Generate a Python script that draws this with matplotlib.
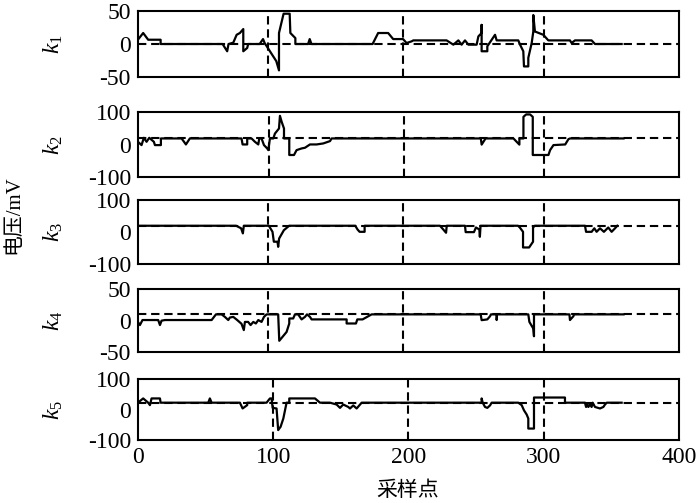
import matplotlib
matplotlib.use("Agg")
import matplotlib.pyplot as plt

plt.rcParams['font.family'] = ['Liberation Serif', 'Noto Sans CJK SC']
plt.rcParams['mathtext.fontset'] = 'custom'
plt.rcParams['mathtext.it'] = 'Liberation Serif:italic'
plt.rcParams['mathtext.rm'] = 'Liberation Serif'
plt.rcParams['axes.unicode_minus'] = False

k1_x = [0, 3.9, 7.6, 16.8, 16.8, 62.6, 66, 67, 70.5, 73, 75.4, 77.9, 77.9, 80.8, 81.5,
        90, 92.5, 93.7, 102.3, 104.3, 104.3, 107.7, 112.2, 112.7, 116.4, 116.4, 125.8,
        127, 128.3, 173.5, 177.6, 185, 188.7, 196, 198.6, 202.3, 203.6, 228.2, 233.2,
        236.9, 239.3, 241.8, 244.3, 250.4, 251.7, 254.1, 254.1, 254.1, 258.3, 258.3,
        264, 265.2, 281.2, 282.5, 284.9, 285.4, 288.6, 288.6, 291.1, 292.3, 292.3,
        293.5, 299.7, 303.4, 319.4, 320.6, 323.1, 335.4, 337.9, 357.6]
k1_y = [6.5, 16.7, 6.5, 6.5, 0, 0, -11, 0, 2, 14, 16.7, 22.7, -11, -6, 0,
        0, 7.5, 1.5, -26, -40, 16.7, 46, 46, 16.7, 9, 0, 0,
        7.5, 0, 0, 16.7, 16.7, 7.5, 7.5, 1.5, 4, 5.5, 5.5, -1,
        5.5, -1, 5.5, -1, -1, 11.6, 16.7, 29, -11, -11, -3.5,
        14, 5.5, 5.5, -1, -11, -34, -34, -21, 1.5, 19, 44,
        19, 14, 5.5, 5.5, 1.5, 5.5, 5.5, 0, 0]

k2_x = [0, 2.7, 4.4, 6.4, 8.4, 11.8, 12.6, 17, 17, 32.3, 35.5, 38.4, 76.6, 77.4, 80.8,
        80.8, 84, 86.5, 89, 89.7, 91.4, 93.2, 95.6, 96.4, 97.6, 100.1, 101.3, 104.3,
        105, 106.3, 108, 108, 111.9, 111.9, 115.4, 117.3, 121, 123.5, 127.2, 132.1,
        137, 142, 143.2, 253.5, 254.1, 257, 277.6, 282, 282, 285, 285, 287, 289.9,
        291.9, 291.9, 303.5, 304.7, 307.2, 315.9, 318.3, 319.5, 359]
k2_y = [8.7, -1.5, 21, 8.7, 21, 8.7, -1.5, -1.5, 19, 19, 0.5, 19, 19, 0.5, 0.5,
        19, 19, 8.7, 0.5, 19, 19, -1.5, -11.8, -17, 19, 19, 34, 49.7,
        88.7, 70, 49.7, 19, 19, -32, -32, -17, -11.8, -9.7, 0.5, 0.5,
        3.6, 10.8, 19, 19, 0, 19, 19, 0, 19, 19, 85.6, 93, 93,
        85.6, -32, -32, -17, -1.5, 0.5, 17, 19, 19]

k3_x = [0, 72.6, 76.3, 77.6, 78.3, 96.8, 99.5, 100.5, 103.2, 103.7, 104.4, 107.9, 111.8,
        160.7, 162.4, 163.9, 167.6, 167.6, 223.3, 225.8, 227.8, 228.3, 241.8, 242.3,
        248.4, 249.9, 252.4, 252.8, 253.3, 281, 282.3, 284.7, 284.7, 289.2, 292.1,
        292.1, 293.4, 330.5, 331.3, 335.4, 337.4, 339.1, 341.6, 344.5, 347.7, 350.2,
        352.7, 354.4]
k3_y = [20, 20, 12, -4, 20, 20, 1, -30, -30, -46, -20, 6, 20,
        20, 8, 1, 1, 20, 20, 8, -2, 20, 20, 0,
        0, 14.6, 8.3, -14.6, 20, 20, 14.6, 1, -48, -48, -30,
        14.6, 20, 20, 1, 1, 12, 1, 12, 1, 14.6, 1,
        12, 20]

k4_x = [0, 1.5, 3.4, 15, 16.3, 17.5, 20, 54.5, 57.7, 61.9, 64.3, 66.8, 68, 70.5, 73.4,
        76.6, 78.3, 79.1, 81.5, 83.3, 85.3, 87.2, 89, 91.4, 93.2, 95.1, 103.7, 104.5,
        109.9, 111.9, 111.9, 114.8, 116.1, 118.5, 121, 123.5, 125, 127.2, 128.4, 154.3,
        154.3, 161.2, 162.2, 166.1, 172.8, 253.4, 254.1, 258.3, 260.3, 261, 265.2,
        265.2, 265.5, 288.6, 289.4, 292.3, 292.8, 292.8, 319, 319.4, 321.9, 322.5, 359]
k4_y = [-2, -7, 1, 1, -7, 0, 1, 1, 10, 10, 6, 1, 5, 6, 1,
        -5, -15, -2, -2, -7, -2, -4.5, 1, -2, 6, 10, 10, -32,
        -18, -4.5, 3.5, 3.5, 10, 10, 2, 6, 10, 6, 2, 2,
        -4.5, -4.5, 2, 2, 10, 10, 0.8, 2, 7, 10, 10,
        1, 10, 10, -2, -12.6, -24.8, 10, 10, 1, 7, 10, 10]

k5_x = [0, 3.9, 7.6, 8.9, 10.1, 16.3, 16.8, 52, 53.2, 54.5, 75.4, 77.4, 80.8, 80.8, 95.1,
        97.6, 98.8, 99.6, 102.5, 103.7, 105.5, 107.5, 109.9, 111.9, 111.9, 130.9, 134.6,
        142, 146.9, 149.4, 151.8, 155.5, 156.8, 159.2, 161.7, 165.4, 254.1, 254.1, 254.9,
        256.6, 258.3, 260.3, 261.5, 281.2, 283.7, 285.4, 287.4, 288.6, 288.6, 292.8,
        292.8, 315.7, 315.7, 330.5, 331.3, 332.3, 333, 334.2, 335.4, 336.2, 337.9,
        341.6, 344.1, 345.3, 346.6, 357.6]
k5_y = [23, 37, 23, 15, 37, 37, 23, 23, 37, 23, 23, 4, 15, 23, 23,
        37, 37, 6, 4, -67, -56, -29, 23, 23, 37, 37, 23,
        23, 17, 6, 17, 9, 4, 14, 4, 23, 23, 37, 23,
        9, 6, 14, 23, 23, 15, -2, -16, -29, -62, -62,
        40, 40, 23, 23, 9, 17, 9, 17, 9, 23, 9,
        4, 9, 17, 23, 23]

xs = [k1_x, k2_x, k3_x, k4_x, k5_x]
ys = [k1_y, k2_y, k3_y, k4_y, k5_y]
names = ['$k_1$', '$k_2$', '$k_3$', '$k_4$', '$k_5$']
yranges = [50, 100, 100, 50, 100]
baselines = [0, 20, 20, 10, 23]
vmarks = [[96, 196, 300], [97, 197, 300], [96, 196, 300], [96, 196, 300], [100, 200, 300]]

boxes = [[0.197, 0.847, 0.773, 0.131],
         [0.197, 0.648, 0.773, 0.129],
         [0.197, 0.475, 0.773, 0.127],
         [0.197, 0.300, 0.773, 0.125],
         [0.197, 0.125, 0.773, 0.121]]

fig = plt.figure(figsize=(7.0, 5.03), dpi=100)
dash = (0, (4, 2.3))

for i in range(5):
    ax = fig.add_axes(boxes[i])
    r = yranges[i]
    ax.axhline(baselines[i], color='k', lw=1.5, ls=dash, zorder=1)
    for v in vmarks[i]:
        ax.axvline(v, color='k', lw=1.5, ls=dash, zorder=1)
    ax.plot(xs[i], ys[i], color='k', lw=1.6, zorder=2)
    ax.set_xlim(0, 400)
    ax.set_ylim(-r, r)
    ax.set_yticks([r, 0, -r])
    ax.set_xticks([0, 100, 200, 300, 400])
    ax.tick_params(length=0, labelsize=17, pad=5)
    if i < 4:
        ax.set_xticklabels([])
    for s in ax.spines.values():
        s.set_linewidth(1.5)
    ax.set_ylabel(names[i], fontsize=17)
    ax.yaxis.set_label_coords(-0.135, 0.5)

fig.text(0.02, 0.573, '电压/mV', rotation=90, ha='center', va='center', fontsize=15)
fig.text(0.583, 0.024, '采样点', ha='center', va='center', fontsize=15)

fig.savefig('out.png', dpi=100)
